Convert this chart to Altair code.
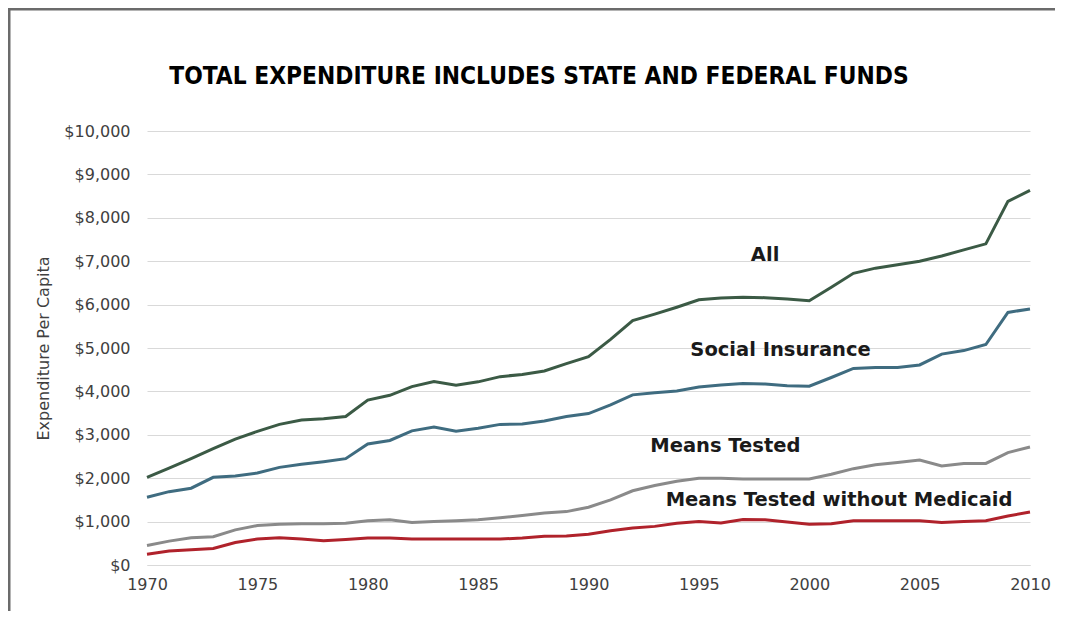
import altair as alt
import pandas as pd

# ---------------- data ----------------
years = list(range(1970, 2011))

all_spending = [2020, 2230, 2450, 2680, 2900, 3080, 3240, 3340, 3370, 3420,
                3800, 3910, 4110, 4230, 4140, 4220, 4340, 4390, 4470, 4640,
                4800, 5200, 5630, 5780, 5940, 6110, 6150, 6170, 6160, 6130,
                6090, 6400, 6720, 6840, 6920, 7000, 7120, 7260, 7400, 8380, 8630]

social_insurance = [1560, 1690, 1770, 2020, 2050, 2120, 2250, 2320, 2380, 2450,
                    2790, 2870, 3090, 3180, 3080, 3150, 3240, 3250, 3320, 3420,
                    3490, 3690, 3920, 3970, 4010, 4100, 4150, 4180, 4170, 4130,
                    4120, 4320, 4530, 4550, 4550, 4610, 4860, 4940, 5080, 5820, 5900]

means_tested = [450, 550, 630, 650, 810, 910, 940, 950, 950, 960,
                1020, 1040, 980, 1000, 1020, 1040, 1090, 1140, 1200, 1230,
                1330, 1500, 1710, 1830, 1930, 2000, 2000, 1980, 1980, 1980,
                1980, 2090, 2220, 2310, 2360, 2420, 2280, 2340, 2340, 2590, 2720]

means_tested_no_medicaid = [250, 320, 350, 380, 520, 600, 630, 600, 560, 590,
                            620, 620, 600, 600, 600, 600, 600, 620, 660, 670,
                            710, 790, 850, 890, 960, 1000, 970, 1050, 1040, 990,
                            940, 950, 1020, 1020, 1020, 1020, 980, 1000, 1020, 1130, 1220]

series_names = ["All", "Social Insurance", "Means Tested", "Means Tested without Medicaid"]
series_colors = ["#3b5a45", "#3f6c80", "#8a8a8a", "#b0222b"]

label_text = ["All", "Social Insurance", "Means Tested", "Means Tested without Medicaid"]
label_year = [1998.0, 1998.7, 1996.2, 2001.35]
label_value = [7140, 4950, 2740, 1500]

x_ticks = [1970, 1975, 1980, 1985, 1990, 1995, 2000, 2005, 2010]
y_ticks = list(range(0, 10001, 1000))

title_text = "TOTAL EXPENDITURE INCLUDES STATE AND FEDERAL FUNDS"
y_title = "Expenditure Per Capita"

# ---------------- build tables ----------------
rows = []
for name, vals in zip(series_names, [all_spending, social_insurance, means_tested, means_tested_no_medicaid]):
    for yr, v in zip(years, vals):
        rows.append({"year": yr, "value": v, "series": name})
df = pd.DataFrame(rows)

labels_df = pd.DataFrame({"label": label_text, "year": label_year, "value": label_value})

AXIS_FONT = "DejaVu Sans"
TEXT_COLOR = "#404040"
TITLE_FONT = "'DejaVu Sans Condensed', 'Roboto Condensed', 'Liberation Sans Narrow', 'Noto Sans'"

x_enc = alt.X("year:Q",
              scale=alt.Scale(domain=[1970, 2010], nice=False, zero=False),
              axis=alt.Axis(values=x_ticks, format="d", title=None, grid=False,
                            ticks=False, tickSize=0, domain=True, domainColor="#d9d9d9",
                            labelFlush=False, labelPadding=11, labelFontSize=16,
                            labelFont=AXIS_FONT, labelColor=TEXT_COLOR))
y_enc = alt.Y("value:Q",
              scale=alt.Scale(domain=[0, 10000], nice=False),
              axis=alt.Axis(values=y_ticks, format="$,d", title=y_title, grid=True,
                            gridColor="#d9d9d9", gridWidth=1, domain=False, ticks=False,
                            tickSize=0, labelPadding=17, labelFontSize=16, labelFont=AXIS_FONT,
                            labelColor=TEXT_COLOR, titleFont=AXIS_FONT, titleFontSize=16,
                            titleFontWeight="normal", titleColor=TEXT_COLOR, titlePadding=12))

lines = alt.Chart(df).mark_line(strokeWidth=3).encode(
    x=x_enc,
    y=y_enc,
    color=alt.Color("series:N", scale=alt.Scale(domain=series_names, range=series_colors), legend=None),
    detail="series:N",
    order="year:Q",
)

labels = alt.Chart(labels_df).mark_text(
    font=AXIS_FONT, fontSize=19.5, fontWeight="bold", color="#1a1a1a",
    align="center", baseline="middle"
).encode(x="year:Q", y="value:Q", text="label:N")

one_row = pd.DataFrame({"title": [title_text]})
title_mark = alt.Chart(one_row).mark_text(
    font=TITLE_FONT, fontSize=24.3, fontWeight="bold", color="#000000",
    align="center", baseline="alphabetic"
).encode(x=alt.value(392), y=alt.value(-47), text="title:N")

frame_left = alt.Chart(one_row).mark_rule(color="#6b6b6b", strokeWidth=3).encode(
    x=alt.value(-138), y=alt.value(-122), y2=alt.value(480))
frame_top = alt.Chart(one_row).mark_rule(color="#6b6b6b", strokeWidth=3).encode(
    x=alt.value(-139), x2=alt.value(930), y=alt.value(-122))

chart = alt.layer(frame_left, frame_top, title_mark, lines, labels).properties(
    width=883,
    height=434,
    background="white",
    autosize=alt.AutoSizeParams(type="none"),
    padding={"left": 139, "top": 123, "right": 25, "bottom": 48},
).configure_view(stroke=None)

chart.save("out.html", embed_options={"renderer": "svg", "actions": False})
